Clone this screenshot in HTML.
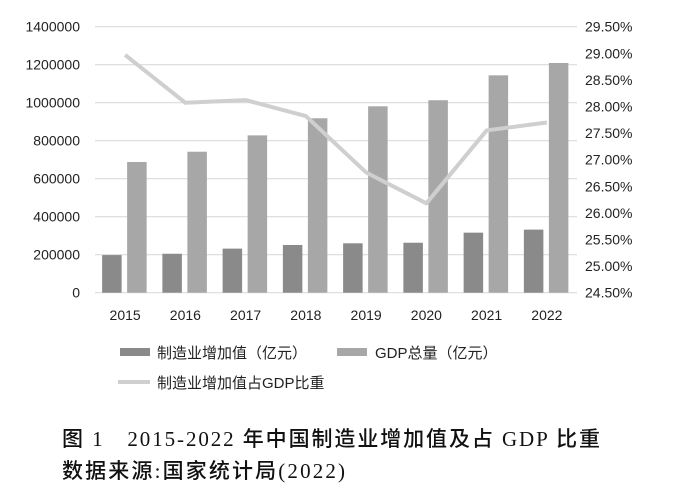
<!DOCTYPE html>
<html><head><meta charset="utf-8">
<style>
body{margin:0;background:#fff;width:700px;height:502px;overflow:hidden}
svg{display:block}
.t{font-family:"Liberation Sans","Noto Sans CJK SC",sans-serif;fill:#222}
.c{font-family:"Liberation Serif","Noto Sans CJK SC",serif;fill:#111;font-weight:500}
</style></head><body>
<svg id="chart" width="700" height="502">
<g id="grid"></g><g id="bars"></g><g id="line"></g><g id="axes"></g>
<g>
<rect x="120" y="348" width="30" height="8" fill="#8a8a8a"/>
<text class="t" x="157" y="358" font-size="15">制造业增加值（亿元）</text>
<rect x="337" y="348" width="30" height="8" fill="#a7a7a7"/>
<text class="t" x="375" y="358" font-size="15">GDP总量（亿元）</text>
<line x1="118" y1="382" x2="150" y2="382" stroke="#cfcfcf" stroke-width="4"/>
<text class="t" x="157" y="388" font-size="15">制造业增加值占GDP比重</text>
</g>
<text class="c" x="62" y="446" font-size="21" textLength="538" lengthAdjust="spacing">图 1　2015-2022 年中国制造业增加值及占 GDP 比重</text>
<text class="c" x="62" y="478" font-size="21" textLength="283" lengthAdjust="spacing">数据来源:国家统计局(2022)</text>
</svg>
<script>
const years=["2015","2016","2017","2018","2019","2020","2021","2022"];
const manufacturing=[198000,205000,232000,251000,260000,263000,316000,332000];
const gdp=[688000,742000,828000,918000,981000,1013000,1144000,1209000];
const share=[28.97,28.07,28.12,27.82,26.76,26.18,27.55,27.70];
const leftTicks=[0,200000,400000,600000,800000,1000000,1200000,1400000];
const rightTicks=["24.50%","25.00%","25.50%","26.00%","26.50%","27.00%","27.50%","28.00%","28.50%","29.00%","29.50%"];
const NS="http://www.w3.org/2000/svg";
const x0=95,x1=577,y0=292.7,yTop=26.7;
const bw=(x1-x0)/years.length;
const yL=v=>y0-(v/1400000)*(y0-yTop);
const yR=p=>y0-((p-24.5)/5)*(y0-yTop);
const cx=i=>x0+bw*(i+0.5);
function mk(tag,attrs,parent){const e=document.createElementNS(NS,tag);for(const k in attrs)e.setAttribute(k,attrs[k]);document.getElementById(parent).appendChild(e);return e;}
leftTicks.forEach(v=>{
 const l=mk('line',{x1:x0,x2:x1,y1:yL(v),y2:yL(v),stroke:'#dcdcdc','stroke-width':1.2},'grid');
 
 
 const t=mk('text',{x:80,y:yL(v)+5,'text-anchor':'end','font-size':14,class:'t'},'axes');
 t.textContent=String(v);
 
 
});
rightTicks.forEach((s,i)=>{
 const t=mk('text',{x:585,y:yR(24.5+i*0.5)+5,'font-size':14,class:'t'},'axes');
 t.textContent=s;
 
 
});
years.forEach((yr,i)=>{
 const c=cx(i);
 const a=mk('rect',{x:c-23,y:yL(manufacturing[i]),width:19.5,height:y0-yL(manufacturing[i]),fill:'#8a8a8a'},'bars');
 
 
 const b=mk('rect',{x:c+2,y:yL(gdp[i]),width:19.5,height:y0-yL(gdp[i]),fill:'#a7a7a7'},'bars');
 
 
 const t=mk('text',{x:c,y:320,'text-anchor':'middle','font-size':14,class:'t'},'axes');
 t.textContent=yr;
 
 
});
const pl=mk('polyline',{points:share.map((p,i)=>cx(i)+','+yR(p)).join(' '),fill:'none',stroke:'#cfcfcf','stroke-width':4,'stroke-linejoin':'round'},'line');


</script>
</body></html>
